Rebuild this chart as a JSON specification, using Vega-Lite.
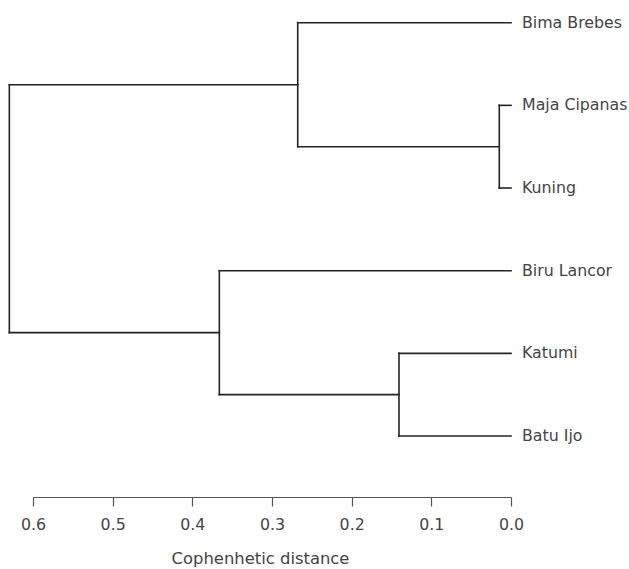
{
  "$schema": "https://vega.github.io/schema/vega-lite/v6.json",
  "width": 478,
  "height": 497,
  "autosize": {"type": "none"},
  "padding": {"left": 33, "top": 0, "right": 118, "bottom": 72},
  "background": "white",
  "config": {"view": {"stroke": null}, "font": "DejaVu Sans"},
  "datasets": {
    "segments": [
      {"d1": 0, "d2": 0.2677, "p1": 0, "p2": 0},
      {"d1": 0, "d2": 0.0147, "p1": 1, "p2": 1},
      {"d1": 0, "d2": 0.0147, "p1": 2, "p2": 2},
      {"d1": 0, "d2": 0.3661, "p1": 3, "p2": 3},
      {"d1": 0, "d2": 0.1406, "p1": 4, "p2": 4},
      {"d1": 0, "d2": 0.1406, "p1": 5, "p2": 5},
      {"d1": 0.0147, "d2": 0.0147, "p1": 1, "p2": 2},
      {"d1": 0.0147, "d2": 0.2677, "p1": 1.5, "p2": 1.5},
      {"d1": 0.2677, "d2": 0.2677, "p1": 0, "p2": 1.5},
      {"d1": 0.2677, "d2": 0.6297, "p1": 0.75, "p2": 0.75},
      {"d1": 0.1406, "d2": 0.1406, "p1": 4, "p2": 5},
      {"d1": 0.1406, "d2": 0.3661, "p1": 4.5, "p2": 4.5},
      {"d1": 0.3661, "d2": 0.3661, "p1": 3, "p2": 4.5},
      {"d1": 0.3661, "d2": 0.6297, "p1": 3.75, "p2": 3.75},
      {"d1": 0.6297, "d2": 0.6297, "p1": 0.75, "p2": 3.75}
    ],
    "leaves": [
      {"name": "Bima Brebes", "dist": 0, "pos": 0},
      {"name": "Maja Cipanas", "dist": 0, "pos": 1},
      {"name": "Kuning", "dist": 0, "pos": 2},
      {"name": "Biru Lancor", "dist": 0, "pos": 3},
      {"name": "Katumi", "dist": 0, "pos": 4},
      {"name": "Batu Ijo", "dist": 0, "pos": 5}
    ]
  },
  "layer": [
    {
      "data": {"name": "segments"},
      "mark": {"type": "rule", "color": "#222222", "strokeWidth": 1.6, "strokeCap": "square"},
      "encoding": {
        "x": {
          "field": "d1",
          "type": "quantitative",
          "scale": {"domain": [0, 0.6], "reverse": true, "nice": false, "zero": false},
          "axis": {
            "title": "Cophenhetic distance",
            "values": [0, 0.1, 0.2, 0.3, 0.4, 0.5, 0.6],
            "format": ".1f",
            "grid": false,
            "domainColor": "#555555",
            "domainWidth": 1.2,
            "tickColor": "#555555",
            "tickWidth": 1.2,
            "tickSize": 9,
            "labelPadding": 11,
            "labelFontSize": 15.8,
            "labelColor": "#444444",
            "labelFlush": false,
            "titleFontSize": 16.4,
            "titleFontWeight": "normal",
            "titleColor": "#444444",
            "titlePadding": 19,
            "titleX": 227
          }
        },
        "x2": {"field": "d2"},
        "y": {
          "field": "p1",
          "type": "quantitative",
          "scale": {"domain": [-0.2746, 5.738], "reverse": true, "nice": false, "zero": false},
          "axis": null
        },
        "y2": {"field": "p2"}
      }
    },
    {
      "data": {"name": "leaves"},
      "mark": {"type": "text", "align": "left", "baseline": "middle", "dx": 11, "fontSize": 15.8, "color": "#444444"},
      "encoding": {
        "x": {"field": "dist", "type": "quantitative"},
        "y": {"field": "pos", "type": "quantitative"},
        "text": {"field": "name"}
      }
    }
  ]
}
